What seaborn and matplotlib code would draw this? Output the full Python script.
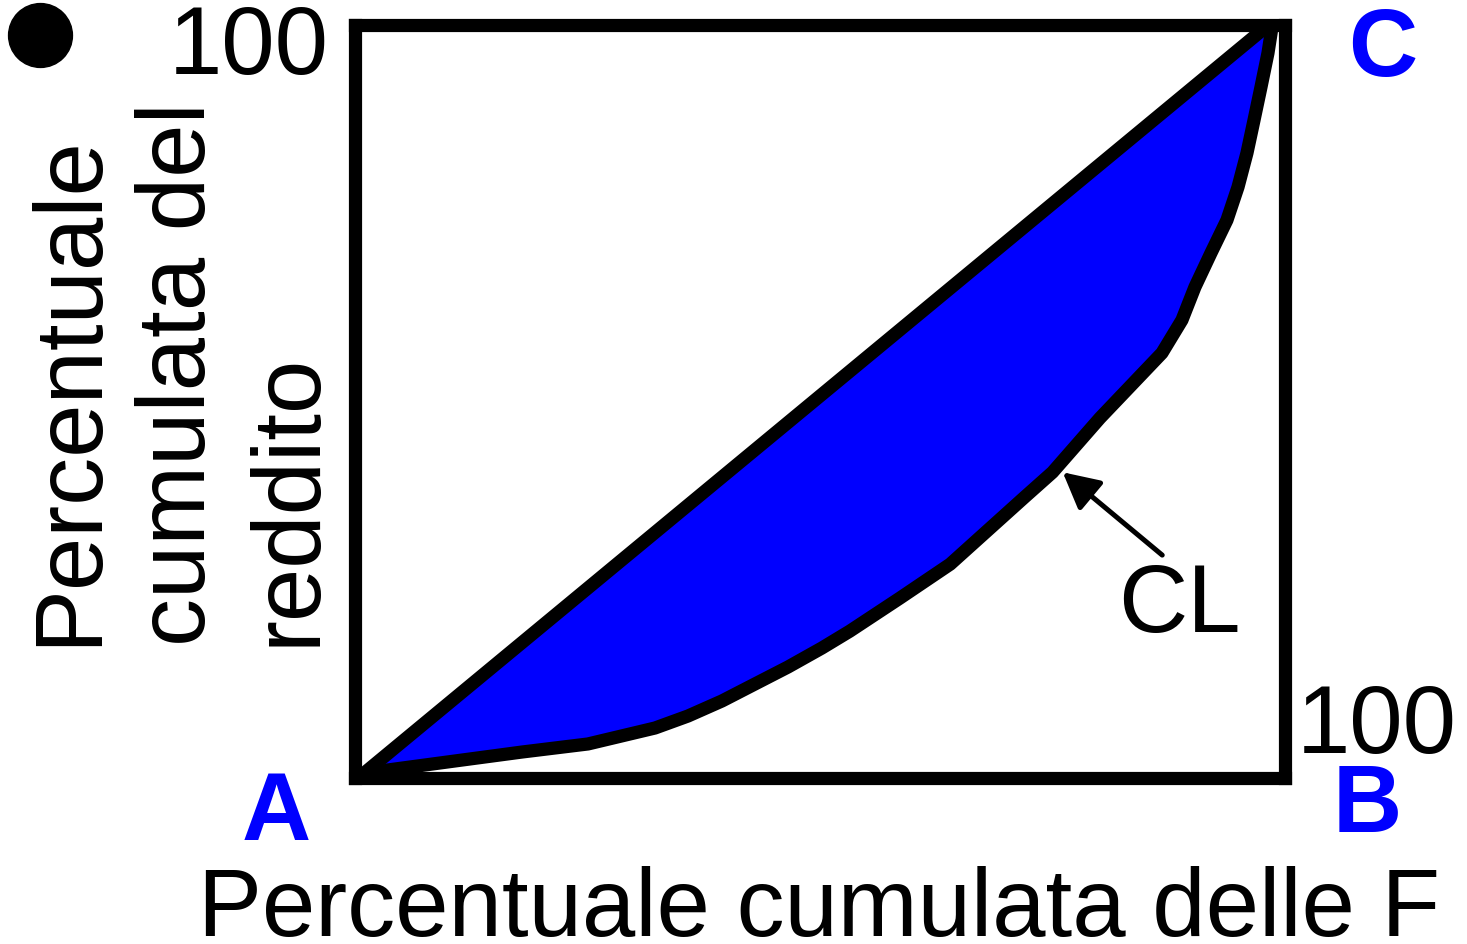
import matplotlib
matplotlib.use("Agg")
import matplotlib.pyplot as plt
from matplotlib.lines import Line2D
import numpy as np
import pandas as pd
import seaborn as sns

# curva di Lorenz (CL)
cum_famiglie = [0.75, 3.5, 10.75, 17.96, 25.05, 32.26, 35.8, 39.46, 43.0, 46.56,
                50.2, 53.2, 58.6, 64.0, 72.0, 75.0, 80.1, 86.77, 88.92, 90.32,
                92.04, 93.76, 94.95, 95.91, 96.67, 97.42, 98.17, 98.6]
cum_reddito = [-0.66, 1.06, 2.26, 3.45, 4.52, 6.64, 8.23, 10.23, 12.48, 14.74,
               17.26, 19.5, 23.9, 28.4, 37.3, 40.6, 47.8, 56.44, 60.82, 65.21,
               69.72, 74.10, 78.49, 83.0, 87.38, 91.77, 96.28, 99.7]
# retta di equidistribuzione A-C
diag_x = [0.75, 98.6]
diag_y = [0.4, 100.4]

W, H = 1467, 944
sns.set_style("white")
plt.rcParams["font.family"] = ["Liberation Sans", "DejaVu Sans"]
plt.rcParams["text.color"] = "black"

fig = plt.figure(figsize=(W / 100, H / 100), dpi=100)
ax = fig.add_axes([355 / W, 1 - 778 / H, 930 / W, 753 / H])

lw = 9.5
# area di concentrazione
poly_x = np.concatenate([cum_famiglie, diag_x[::-1]])
poly_y = np.concatenate([cum_reddito, diag_y[::-1]])
ax.fill(poly_x, poly_y, color="#0000ff", lw=0, zorder=1)

df_cl = pd.DataFrame({"x": cum_famiglie, "y": cum_reddito})
sns.lineplot(data=df_cl, x="x", y="y", sort=False, estimator=None, color="black",
             lw=lw, ax=ax, zorder=3, solid_joinstyle="round")
sns.lineplot(x=diag_x, y=diag_y, sort=False, estimator=None, color="black",
             lw=lw, ax=ax, zorder=3)

ax.set_xlim(0, 100)
ax.set_ylim(0, 100)
ax.set_xticks([])
ax.set_yticks([])
ax.set_xlabel("")
ax.set_ylabel("")
for s in ax.spines.values():
    s.set_visible(True)
    s.set_color("black")
    s.set_linewidth(lw)
    s.set_zorder(2.5)

# freccia verso la curva
ax.annotate("", xy=(76.1, 40.6), xytext=(86.8, 29.6),
            arrowprops=dict(arrowstyle="-|>,head_length=2.2,head_width=1.15",
                            mutation_scale=10, lw=3.6, color="black",
                            shrinkA=0, shrinkB=0), zorder=4)

fs = 69
def ftxt(px, py, s, **kw):
    fig.text(px / W, 1 - py / H, s, fontsize=fs, **kw)

ftxt(1118, 632, "CL", ha="left", va="baseline")
ftxt(329, 74, "100", ha="right", va="baseline")
ftxt(1297, 753, "100", ha="left", va="baseline")
ftxt(1383, 76, "C", ha="center", va="baseline", color="#0000ff", fontweight="bold")
ftxt(276, 840, "A", ha="center", va="baseline", color="#0000ff", fontweight="bold")
ftxt(1367, 832, "B", ha="center", va="baseline", color="#0000ff", fontweight="bold")
ftxt(198, 936, "Percentuale cumulata delle F", ha="left", va="baseline")

ylab = ["Percentuale", "cumulata del", "reddito"]
ybase = [95, 205, 315]
for t, bx in zip(ylab, ybase):
    ftxt(bx, 646, t, ha="left", va="baseline", rotation=90, rotation_mode="anchor")

fig.add_artist(Line2D([40 / W], [1 - 35 / H], marker="o", ms=46, color="black",
                      lw=0, transform=fig.transFigure))

fig.savefig("out.png", dpi=100)
